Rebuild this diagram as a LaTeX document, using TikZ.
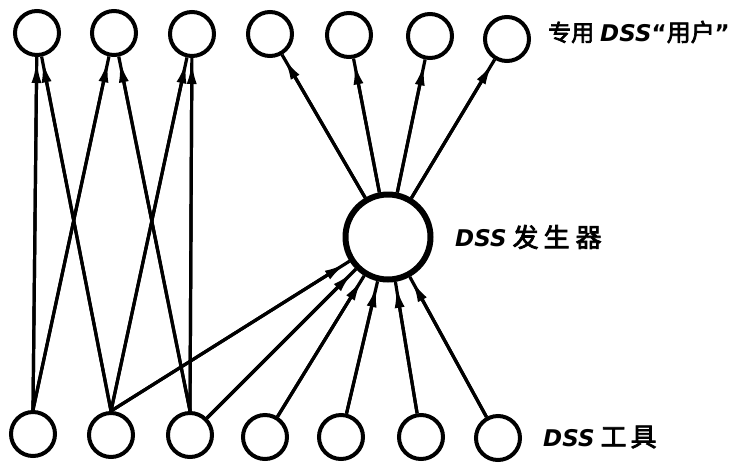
\documentclass[tikz,border=0pt]{standalone}
\usepackage{fontspec}
\setmainfont{DejaVu Sans}
\newfontfamily\cjk[AutoFakeBold=3]{Noto Sans CJK SC}
\usetikzlibrary{arrows.meta}
\begin{document}
\begin{tikzpicture}[x=1pt,y=-1pt,
  small/.style={circle,draw,line width=4pt,minimum size=44pt,inner sep=0pt},
  big/.style={circle,draw,line width=6pt,minimum size=85pt,inner sep=0pt},
  conn/.style={line width=3.2pt,
    postaction={draw,-{Latex[length=22pt,width=10pt]},shorten >=4pt}},
  lbl/.style={anchor=west,inner sep=0pt,font=\fontsize{23}{28}\selectfont\bfseries}]
\useasboundingbox (0,0) rectangle (736,464);
% top circles
\node[small] (t1) at (37,33) {};
\node[small] (t2) at (114,33) {};
\node[small] (t3) at (192,34) {};
\node[small] (t4) at (270,34) {};
\node[small] (t5) at (349,35) {};
\node[small] (t6) at (430,36) {};
\node[small] (t7) at (507,39) {};
% generator
\node[big] (g) at (388,237) {};
% bottom circles
\node[small] (b1) at (33,434) {};
\node[small] (b2) at (111,435) {};
\node[small] (b3) at (190,435) {};
\node[small] (b4) at (265,437) {};
\node[small] (b5) at (341,437) {};
\node[small] (b6) at (421,437) {};
\node[small] (b7) at (498,438) {};
% labels
\node[lbl] (l1) at (548,32) {{\cjk 专用}\hspace{6pt}{\itshape DSS}“{\fontsize{24}{28}\selectfont\cjk 用户}”};
\node[lbl] (l2) at (455,237) {{\itshape DSS}\hspace{6pt}{\fontsize{26}{28}\selectfont\cjk 发\hspace{5pt}生\hspace{6pt}器}};
\node[lbl] (l3) at (543,437) {{\itshape DSS}\hspace{6pt}{\fontsize{26}{28}\selectfont\cjk 工\hspace{4pt}具}};
% crossing connectors
\draw[conn] (b1.north) -- (t1);
\draw[conn] (b1.north) -- (t2);
\draw[conn] (b2.north) -- (t1);
\draw[conn] (b2.north) -- (t3);
\draw[conn] (b3.north) -- (t2);
\draw[conn] (b3.north) -- (t3);
% to generator
\draw[conn] (b2.north) -- (g);
\draw[conn] (b3) -- (g);
\draw[conn] (b4) -- (g);
\draw[conn] (b5) -- (g);
\draw[conn] (b6) -- (g);
\draw[conn] (b7) -- (g);
% from generator
\draw[conn] (g) -- (t4);
\draw[conn] (g) -- (t5);
\draw[conn] (g) -- (t6);
\draw[conn] (g) -- (t7);
\end{tikzpicture}
\end{document}
